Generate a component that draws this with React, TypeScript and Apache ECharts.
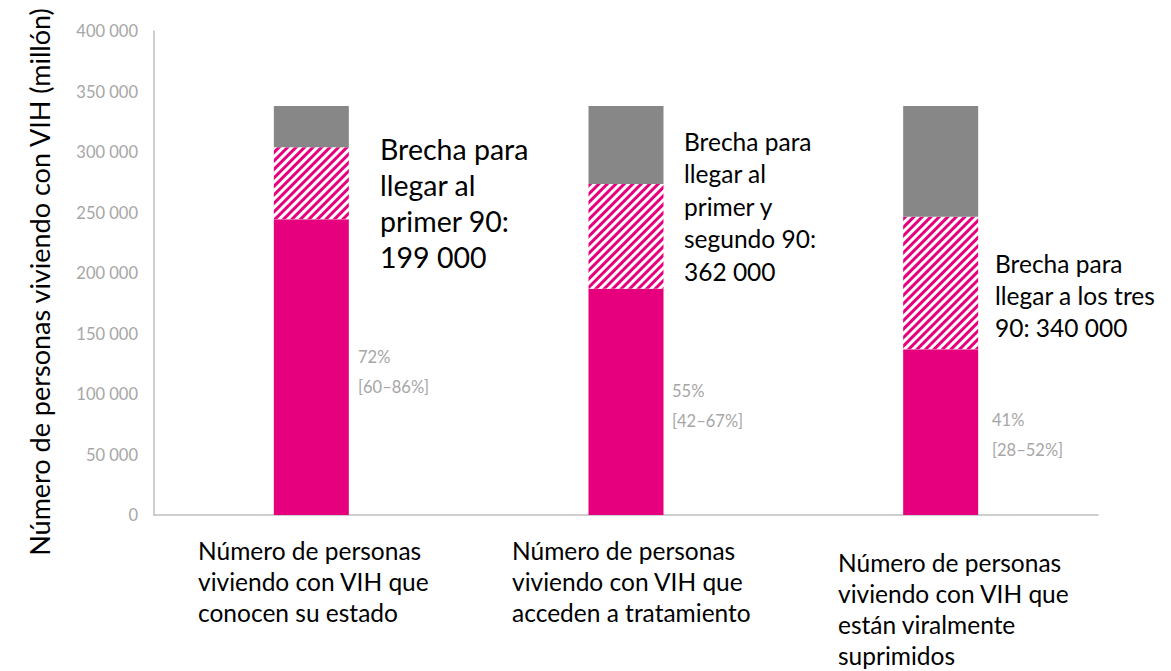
import React, { useEffect, useRef } from "react";
import * as echarts from "echarts";

// ---- data ----
const categories = [
  "Número de personas\nviviendo con VIH que\nconocen su estado",
  "Número de personas\nviviendo con VIH que\nacceden a tratamiento",
  "Número de personas\nviviendo con VIH que\nestán viralmente\nsuprimidos",
];
const achieved = [244500, 187000, 137000]; // pink solid
const target = [304000, 273500, 246500]; // top of hatched gap
const total = [338000, 338000, 338000]; // total PLHIV
const pctLabels = ["72%", "55%", "41%"];
const rangeLabels = ["[60–86%]", "[42–67%]", "[28–52%]"];
const gapTexts = [
  "Brecha para\nllegar al\nprimer 90:\n199 000",
  "Brecha para\nllegar al\nprimer y\nsegundo 90:\n362 000",
  "Brecha para\nllegar a los tres\n90: 340 000",
];
const yAxisTitle = "Número de personas viviendo con VIH (millón)";
const yMin = 0;
const yMax = 400000;
const yStep = 50000;

const PINK = "#E6007E";
const GRAY = "#878787";
const LIGHT = "#A6A6A6";
const FONT = "Lato, 'Open Sans', sans-serif";

const gap = target.map((t, i) => t - achieved[i]);
const rest = total.map((t, i) => t - target[i]);

const fmt = (v: number) => String(v).replace(/\B(?=(\d{3})+(?!\d))/g, " ");

export default function App() {
  const ref = useRef<HTMLDivElement>(null);
  useEffect(() => {
    if (!ref.current) return;
    const chart = echarts.init(ref.current, undefined, { renderer: "svg" });

    const gapPos = [
      { x: 380, y: 131, size: 28.5, lh: 36 },
      { x: 684, y: 125, size: 24.5, lh: 32.5 },
      { x: 995, y: 247, size: 24.5, lh: 32 },
    ];
    const pctPos = [
      { x: 358, y: 357 },
      { x: 672, y: 391 },
      { x: 992, y: 420 },
    ];
    const catPos = [
      { x: 198, y: 535 },
      { x: 512, y: 535 },
      { x: 838, y: 547 },
    ];

    const graphic: any[] = [
      {
        type: "text",
        x: 39,
        y: 282,
        rotation: Math.PI / 2,
        style: {
          text: yAxisTitle,
          fontFamily: FONT,
          fontSize: 27,
          fill: "#000",
          align: "center",
          verticalAlign: "middle",
        },
      },
    ];
    gapTexts.forEach((t, i) => {
      graphic.push({
        type: "text",
        x: gapPos[i].x,
        y: gapPos[i].y,
        style: {
          text: t,
          fontFamily: FONT,
          fontSize: gapPos[i].size,
          lineHeight: gapPos[i].lh,
          fill: "#000",
          align: "left",
          verticalAlign: "top",
        },
      });
    });
    pctLabels.forEach((t, i) => {
      graphic.push({
        type: "text",
        x: pctPos[i].x,
        y: pctPos[i].y - 15,
        style: {
          text: t + "\n" + rangeLabels[i],
          fontFamily: FONT,
          fontSize: 16.5,
          lineHeight: 30,
          fill: LIGHT,
          align: "left",
          verticalAlign: "top",
        },
      });
    });
    categories.forEach((t, i) => {
      graphic.push({
        type: "text",
        x: catPos[i].x,
        y: catPos[i].y,
        style: {
          text: t,
          fontFamily: FONT,
          fontSize: 24.5,
          lineHeight: 31,
          fill: "#000",
          align: "left",
          verticalAlign: "top",
        },
      });
    });

    chart.setOption({
      animation: false,
      grid: { left: 154, right: 73, top: 31, bottom: 156, containLabel: false },
      xAxis: {
        type: "category",
        data: categories,
        axisLine: { show: true, lineStyle: { color: "#BFBFBF", width: 1.5 } },
        axisTick: { show: false },
        axisLabel: { show: false },
        splitLine: { show: false },
      },
      yAxis: {
        type: "value",
        min: yMin,
        max: yMax,
        interval: yStep,
        axisLine: { show: true, lineStyle: { color: "#BFBFBF", width: 1.5 } },
        axisTick: { show: false },
        splitLine: { show: false },
        axisLabel: {
          color: LIGHT,
          fontFamily: FONT,
          fontSize: 16.5,
          margin: 16,
          formatter: (v: number) => fmt(v),
        },
      },
      series: [
        {
          type: "bar",
          stack: "a",
          barWidth: 75,
          data: achieved,
          itemStyle: { color: PINK },
        },
        {
          type: "bar",
          stack: "a",
          barWidth: 75,
          data: gap,
          itemStyle: {
            color: "#FFFFFF",
            decal: {
              symbol: "rect",
              symbolSize: 1,
              symbolKeepAspect: false,
              dashArrayX: [1, 0],
              dashArrayY: [3, 3],
              rotation: -Math.PI / 4,
              color: PINK,
              backgroundColor: "#FFFFFF",
            },
          },
        },
        {
          type: "bar",
          stack: "a",
          barWidth: 75,
          data: rest,
          itemStyle: { color: GRAY },
        },
      ],
      graphic,
    });
    return () => chart.dispose();
  }, []);
  return (
    <div
      ref={ref}
      style={{ position: "fixed", left: 0, top: 0, width: 1171, height: 671, background: "#fff" }}
    />
  );
}
